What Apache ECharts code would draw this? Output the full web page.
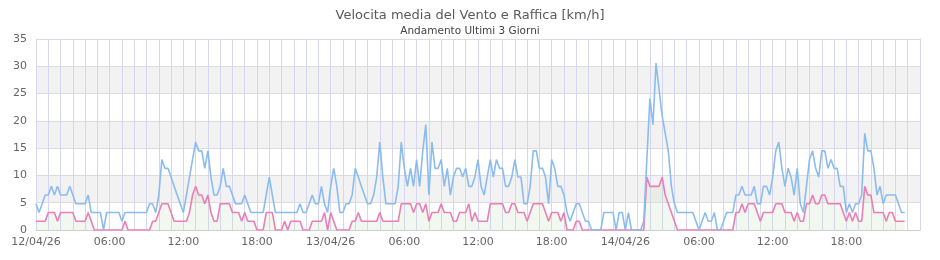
<!DOCTYPE html>
<html>
<head>
<meta charset="utf-8">
<script src="https://cdn.jsdelivr.net/npm/echarts/dist/echarts.min.js"></script>
<style>
html,body{margin:0;padding:0;background:#fff;}
#chart{width:940px;height:260px;}
</style>
</head>
<body>
<div id="chart"></div>
<script>
// ---- data (km/h), one value every 15 minutes starting 12/04/26 00:00 ----
const titleText = 'Velocita media del Vento e Raffica [km/h]';
const subtitleText = 'Andamento Ultimi 3 Giorni';
const stepHours = 0.25;
const xTickLabels = ['12/04/26','06:00','12:00','18:00','13/04/26','06:00','12:00','18:00','14/04/26','06:00','12:00','18:00'];
const yTicks = [0, 5, 10, 15, 20, 25, 30, 35];

const gust = [
4.8,3.2,4.8,6.4,6.4,8,6.4,8,6.4,6.4, 6.4,8,6.4,4.8,4.8,4.8,4.8,6.4,3.2,3.2,
3.2,3.2,0,3.2,3.2,3.2,3.2,3.2,1.6,3.2, 3.2,3.2,3.2,3.2,3.2,3.2,3.2,4.8,4.8,3.2,
6.4,12.9,11.3,11.3,9.7,8,6.4,4.8,3.2,6.4, 9.7,12.9,16.1,14.5,14.5,11.3,14.5,9.7,6.4,6.4,
8,11.3,8,8,6.4,4.8,4.8,4.8,6.4,4.8, 3.2,3.2,3.2,3.2,3.2,6.4,9.7,6.4,3.2,3.2,
3.2,3.2,3.2,3.2,3.2,3.2,4.8,3.2,3.2,4.8, 6.4,4.8,4.8,8,4.8,3.2,8,11.3,8,3.2,
3.2,4.8,4.8,6.4,11.3,9.7,8,6.4,4.8,4.8, 6.4,9.7,16.1,9.7,4.8,4.8,4.8,4.8,8,16.1,
11.3,8,11.3,8,12.9,8,14.5,19.3,6.4,16.1, 11.3,11.3,12.9,8,11.3,6.4,9.7,11.3,11.3,9.7,
11.3,8,8,9.7,12.9,8,6.4,9.7,12.9,9.7, 12.9,11.3,11.3,8,8,9.7,12.9,9.7,9.7,4.8,
4.8,8,14.5,14.5,11.3,11.3,9.7,4.8,12.9,11.3, 8,8,6.4,3.2,1.6,3.2,4.8,4.8,3.2,1.6,
1.6,0,0,0,0,3.2,3.2,3.2,3.2,0, 3.2,3.2,0,3.2,0,0,0,0,1.6,12.9,
24.1,19.3,30.6,25.7,20.9,17.7,14.5,8,4.8,3.2, 3.2,3.2,3.2,3.2,3.2,1.6,0,1.6,3.2,1.6,
1.6,3.2,0,0,1.6,3.2,3.2,3.2,6.4,6.4, 8,6.4,6.4,6.4,8,4.8,4.8,8,8,6.4,
9.7,14.5,16.1,11.3,8,11.3,9.7,6.4,11.3,4.8, 3.2,8,12.9,14.5,11.3,9.7,14.5,14.5,11.3,12.9,
11.3,11.3,8,8,3.2,4.8,3.2,4.8,4.8,6.4, 17.7,14.5,14.5,11.3,6.4,8,4.8,6.4,6.4,6.4,
6.4,4.8,3.2,3.2
];

const mean = [
1.6,1.6,1.6,1.6,3.2,3.2,3.2,1.6,3.2,3.2, 3.2,3.2,3.2,1.6,1.6,1.6,1.6,3.2,1.6,0,
0,0,0,0,0,0,0,0,0,1.6, 0,0,0,0,0,0,0,0,1.6,1.6,
3.2,4.8,4.8,4.8,3.2,1.6,1.6,1.6,1.6,1.6, 3.2,6.4,8,6.4,6.4,4.8,6.4,3.2,1.6,1.6,
4.8,4.8,4.8,4.8,3.2,3.2,3.2,1.6,3.2,1.6, 1.6,1.6,0,0,0,3.2,3.2,3.2,0,0,
0,1.6,0,1.6,1.6,1.6,1.6,0,0,0, 1.6,1.6,1.6,1.6,3.2,0,3.2,1.6,0,0,
0,0,0,1.6,1.6,3.2,1.6,1.6,1.6,1.6, 1.6,1.6,3.2,1.6,1.6,1.6,1.6,1.6,1.6,4.8,
4.8,4.8,4.8,3.2,4.8,4.8,3.2,4.8,1.6,3.2, 3.2,3.2,4.8,3.2,3.2,3.2,1.6,1.6,3.2,3.2,
3.2,4.8,1.6,3.2,1.6,1.6,1.6,1.6,4.8,4.8, 4.8,4.8,4.8,3.2,3.2,4.8,4.8,3.2,3.2,3.2,
1.6,3.2,4.8,4.8,4.8,4.8,3.2,1.6,3.2,3.2, 3.2,1.6,3.2,0,0,0,1.6,1.6,0,0,
0,0,0,0,0,0,0,0,0,0, 0,0,0,0,0,0,0,0,0,9.7,
8,8,8,8,9.7,6.4,4.8,3.2,1.6,0, 0,0,0,0,0,0,0,0,0,0,
0,0,0,0,0,0,0,0,3.2,3.2, 4.8,3.2,4.8,4.8,4.8,3.2,1.6,3.2,3.2,3.2,
3.2,4.8,4.8,4.8,3.2,3.2,3.2,1.6,3.2,1.6, 1.6,4.8,4.8,6.4,4.8,4.8,6.4,6.4,4.8,4.8,
4.8,4.8,4.8,3.2,1.6,3.2,1.6,3.2,1.6,1.6, 8,6.4,6.4,3.2,3.2,3.2,3.2,1.6,3.2,3.2,
1.6,1.6,1.6,1.6
];

// ---- chart ----
const font = 'DejaVu Sans';
const toPairs = arr => arr.map((v, i) => [i * stepHours, v]);
const totalHours = xTickLabels.length * 6;

const chart = echarts.init(document.getElementById('chart'), null, {renderer: 'canvas'});
chart.setOption({
  animation: false,
  backgroundColor: '#fff',
  title: {
    text: titleText,
    subtext: subtitleText,
    left: 'center',
    top: 4,
    itemGap: 4,
    textStyle: {fontFamily: font, fontSize: 13, fontWeight: 'normal', color: '#5a5a5a'},
    subtextStyle: {fontFamily: font, fontSize: 10.5, color: '#444'}
  },
  grid: {left: 36, right: 20, top: 39, bottom: 30},
  xAxis: {
    type: 'value',
    min: 0,
    max: totalHours,
    interval: 1,
    z: 1,
    axisLine: {show: true, lineStyle: {color: '#cfcfcf', width: 1}},
    axisTick: {show: false},
    axisLabel: {
      fontFamily: font, fontSize: 11, color: '#666', margin: 7,
      formatter: v => (v % 6 === 0 && v / 6 < xTickLabels.length) ? xTickLabels[v / 6] : ''
    },
    splitLine: {show: true, lineStyle: {color: '#d6d6f2', width: 1}}
  },
  yAxis: [{
    type: 'value',
    min: yTicks[0],
    max: yTicks[yTicks.length - 1],
    interval: 5,
    z: 0,
    axisLine: {show: true, lineStyle: {color: '#cfcfcf'}},
    axisTick: {show: false},
    axisLabel: {fontFamily: font, fontSize: 11, color: '#666', margin: 9},
    splitLine: {show: true, lineStyle: {color: '#dcdcdc', width: 1}},
    splitArea: {show: true, areaStyle: {color: ['rgba(255,255,255,0)', '#f2f2f2']}}
  }, {
    type: 'value',
    position: 'right',
    min: yTicks[0],
    max: yTicks[yTicks.length - 1],
    interval: 5,
    axisLine: {show: true, lineStyle: {color: '#cfcfcf'}},
    axisTick: {show: false},
    axisLabel: {show: false},
    splitLine: {show: false}
  }],
  series: [{
    name: 'Velocita media',
    type: 'line',
    data: toPairs(mean),
    showSymbol: false,
    symbol: 'none',
    lineStyle: {color: '#ea7fb6', width: 1.6},
    areaStyle: {color: 'rgba(195,220,185,0.32)'},
    z: 2
  }, {
    name: 'Raffica',
    type: 'line',
    data: toPairs(gust),
    showSymbol: false,
    symbol: 'none',
    lineStyle: {color: '#8bbcf0', width: 1.6},
    z: 3
  }]
});
</script>
</body>
</html>
